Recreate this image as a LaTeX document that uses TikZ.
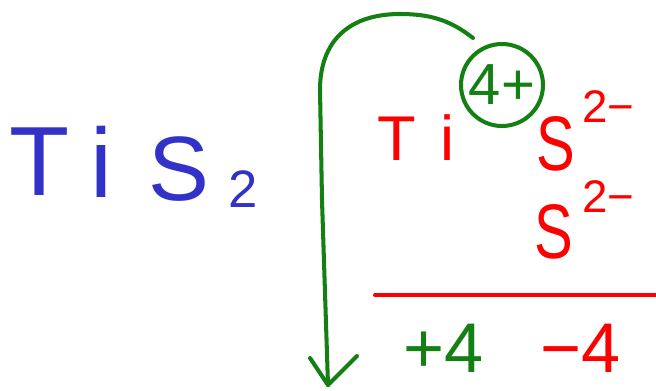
\documentclass[tikz,border=0pt]{standalone}
\usepackage{fontspec}
\setmainfont{Liberation Sans}
\definecolor{hblue}{RGB}{50,50,200}
\definecolor{hgreen}{RGB}{20,128,20}
\definecolor{hred}{RGB}{255,0,0}
\begin{document}
\begin{tikzpicture}[x=0.02cm,y=-0.02cm,
  txt/.style={inner sep=0pt,outer sep=0pt,anchor=base west},
  pen/.style={line width=2.3pt,line cap=round,line join=round},
  fs/.style={font=\fontsize{#1}{#1}\selectfont}]
\useasboundingbox (0,0) rectangle (656,390);
% blue formula
\node[txt,hblue,fs=56] (bT) at (10,195) {T};
\node[txt,hblue,fs=56] (bi) at (90,197) {i};
\node[txt,hblue,fs=52] (bS) at (148,200) {S};
\node[txt,hblue,fs=30] (b2) at (228,207) {2};
% red ions
\node[txt,hred,fs=36] (rT) at (377,160) {T};
\node[txt,hred,fs=36] (ri) at (440,160) {i};
\node[txt,hred,fs=44,xscale=0.75] (S1) at (536,170) {S};
\node[txt,hred,fs=26] (S1c) at (582,122) {2−};
\node[txt,hred,fs=44,xscale=0.75] (S2) at (534,258) {S};
\node[txt,hred,fs=26] (S2c) at (582,212) {2−};
% fraction line
\coordinate (la) at (375,295);
\coordinate (lb) at (656,295);
\draw[pen,hred] (la) -- (lb);
% charges
\node[txt,hgreen,fs=40] (pl) at (403,372) {+4};
\node[txt,hred,fs=40] (mi) at (540,372) {−4};
% circled charge
\node[circle,draw=hgreen,line width=2.3pt,minimum size=1.64cm,inner sep=0pt,text=hgreen,font=\fontsize{33}{33}\selectfont] (circ) at (502,85) {4+};
% arc arrow
\coordinate (as) at (473,38);
\coordinate (tip) at (328,385);
\coordinate (hl) at (310,358);
\coordinate (hr) at (357,356);
\draw[pen,hgreen] (as) .. controls (450,20) and (430,14) .. (400,14)
  .. controls (350,14) and (320,40) .. (320,90) -- (322,200) -- (tip);
\draw[pen,hgreen] (hl) -- (tip) -- (hr);
\end{tikzpicture}
\end{document}
